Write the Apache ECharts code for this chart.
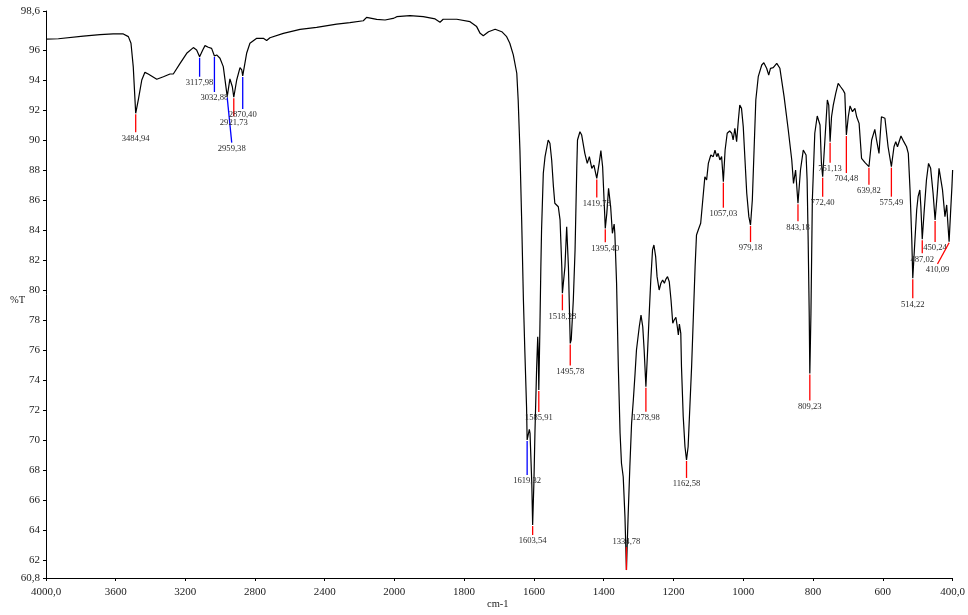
<!DOCTYPE html>
<html>
<head>
<meta charset="utf-8">
<script src="https://cdn.jsdelivr.net/npm/echarts@6/dist/echarts.min.js"></script>
<style>
  html, body { margin: 0; padding: 0; background: #ffffff; }
  #chart { width: 968px; height: 615px; }
</style>
</head>
<body>
<div id="chart"></div>
<script>
// IR spectrum: wavenumber (cm-1) and transmittance (%T), 4000 -> 400 cm-1
const wavenumbers = [
  4000, 3929, 3786, 3690, 3614, 3556, 3527, 3512, 3499, 3484.94,
  3470, 3450, 3432, 3413, 3364, 3326, 3288, 3269, 3230, 3192,
  3154, 3135, 3117.98, 3100, 3087, 3068, 3049, 3032.88, 3020, 3001,
  2982, 2959.38, 2944, 2930, 2921.73, 2905, 2886, 2876, 2870.40, 2848,
  2829, 2790, 2752, 2733, 2714, 2637, 2541, 2446, 2331, 2255,
  2178, 2159, 2149, 2101, 2053, 2000,
  1993, 1955, 1917, 1883, 1869, 1860, 1821, 1783, 1764, 1754,
  1745, 1730, 1711, 1692, 1678, 1669, 1659, 1649, 1645, 1640,
  1635, 1630, 1626, 1621, 1619.32, 1613, 1611, 1606, 1603.54, 1600,
  1597, 1592, 1589, 1587.5, 1585.91, 1583, 1580, 1578, 1573, 1568,
  1559, 1554, 1549, 1544, 1540, 1530, 1525, 1520, 1518.28, 1511,
  1506, 1501, 1495.78, 1493, 1487, 1482, 1477, 1475, 1468, 1463,
  1454, 1447, 1441, 1434, 1428, 1419.78, 1413, 1408, 1403, 1398,
  1395.40, 1391, 1386, 1380, 1375, 1370, 1368, 1363, 1358, 1353,
  1349, 1344, 1339, 1334.78, 1330, 1325, 1320, 1315, 1310, 1306,
  1298, 1293, 1288, 1284, 1278.98, 1274, 1269, 1265, 1260, 1256,
  1251, 1247, 1241, 1236, 1231, 1226, 1222, 1217, 1212, 1207,
  1202, 1198, 1193, 1189, 1186, 1183, 1179, 1177, 1172, 1167,
  1162.58, 1158, 1153, 1148, 1143, 1138, 1134, 1129, 1126, 1122,
  1116, 1110, 1105, 1100, 1093, 1086, 1081, 1076, 1072, 1067,
  1062, 1057.03, 1052, 1046, 1039, 1033, 1029, 1024, 1019, 1014,
  1010, 1005, 1000, 995, 990, 984, 979.18, 974, 969, 964,
  957, 947, 941, 933, 927, 922, 914, 904, 895, 883,
  871, 861, 856, 850, 843.18, 836, 828, 820, 817, 814,
  811, 809.23, 806, 802, 795, 788, 780, 776, 772.40, 766,
  759, 755, 751.13, 747, 742, 735, 728, 721, 714, 709,
  704.48, 699, 694, 687, 680, 675, 668, 661, 651, 639.82,
  632, 623, 618, 611, 604, 599, 594, 585, 575.49, 568,
  563, 558, 548, 540, 532, 527, 522, 517, 514.22, 508,
  503, 499, 494, 491, 487.02, 482, 475, 469, 463, 456,
  450.24, 444, 439, 435, 429, 422, 417, 413, 410.09, 406,
  402, 400
];

const transmittance = [
  96.73, 96.75, 96.93, 97.02, 97.07, 97.07, 96.89, 96.45, 94.89, 91.78,
  92.67, 94.00, 94.51, 94.40, 94.05, 94.22, 94.40, 94.40, 95.11, 95.78,
  96.16, 96.00, 95.55, 96.00, 96.29, 96.18, 96.11, 95.60, 95.67, 95.45,
  94.89, 92.89, 94.07, 93.55, 92.85, 94.00, 94.82, 94.67, 94.27, 95.78,
  96.45, 96.78, 96.78, 96.63, 96.82, 97.11, 97.38, 97.51, 97.73, 97.82,
  97.95, 98.18, 98.05, 98.04, 98.00, 98.13,
  98.22, 98.29, 98.22, 98.07, 97.85, 98.05, 98.05, 97.89, 97.56, 97.11,
  96.95, 97.22, 97.38, 97.22, 96.89, 96.45, 95.67, 94.45, 92.67, 89.33,
  84.67, 79.33, 76.00, 72.22, 70.00, 70.71, 70.45, 67.11, 64.33, 67.11,
  70.45, 74.89, 76.89, 76.00, 73.33, 77.11, 81.55, 84.00, 87.78, 88.89,
  90.00, 89.78, 88.67, 86.89, 85.78, 85.55, 84.67, 81.55, 79.78, 81.55,
  84.22, 81.55, 76.44, 76.67, 79.33, 82.67, 88.22, 90.00, 90.55, 90.33,
  89.11, 88.44, 88.89, 88.11, 88.33, 87.44, 88.44, 89.29, 88.22, 85.55,
  84.11, 85.11, 86.78, 85.55, 83.78, 84.40, 83.78, 80.45, 74.89, 70.45,
  68.45, 67.55, 64.89, 61.33, 64.89, 68.22, 71.11, 72.67, 74.45, 76.00,
  77.55, 78.33, 77.55, 76.00, 73.55, 76.00, 78.67, 80.67, 82.67, 83.00,
  82.22, 80.89, 80.00, 80.45, 80.67, 80.45, 80.71, 80.89, 80.55, 79.33,
  77.78, 78.00, 78.18, 77.55, 77.00, 77.73, 77.11, 74.89, 71.55, 69.55,
  68.67, 69.55, 72.22, 74.89, 78.22, 81.55, 83.67, 84.00, 83.89, 84.45,
  86.00, 87.55, 87.33, 88.44, 89.00, 88.89, 89.33, 88.89, 89.11, 88.67,
  88.89, 87.22, 89.33, 90.45, 90.60, 90.45, 90.00, 90.78, 89.89, 91.33,
  92.33, 92.11, 90.89, 88.67, 86.45, 84.89, 84.33, 86.00, 89.33, 92.67,
  94.22, 95.00, 95.15, 94.78, 94.33, 94.78, 94.82, 95.11, 94.78, 92.89,
  90.67, 88.67, 87.11, 88.00, 85.78, 88.00, 89.33, 89.00, 87.33, 83.33,
  78.45, 74.44, 78.45, 86.00, 90.45, 91.60, 91.00, 88.45, 87.55, 90.00,
  92.67, 92.33, 89.89, 91.55, 92.33, 93.11, 93.78, 93.55, 93.33, 93.11,
  90.33, 91.55, 92.27, 91.89, 92.11, 91.55, 91.11, 88.78, 88.49, 88.22,
  90.00, 90.71, 90.00, 89.11, 91.55, 91.67, 91.45, 89.55, 88.22, 89.55,
  89.89, 89.55, 90.27, 89.89, 89.55, 89.11, 86.67, 83.33, 80.78, 83.33,
  85.33, 86.22, 86.67, 85.55, 83.38, 85.11, 87.33, 88.44, 88.11, 86.45,
  84.67, 86.45, 88.11, 88.00, 86.67, 84.89, 85.67, 84.22, 83.22, 85.11,
  86.89, 88.00
];

// Picked peaks (cm-1) and their transmittance
const peakWavenumbers = [
  3484.94, 3117.98, 3032.88, 2959.38, 2921.73, 2870.40,
  1619.32, 1603.54, 1585.91, 1518.28, 1495.78, 1419.78, 1395.40, 1334.78,
  1278.98, 1162.58, 1057.03, 979.18, 843.18, 809.23, 772.40, 751.13,
  704.48, 639.82, 575.49, 514.22, 487.02, 450.24, 410.09
];
const peakTransmittance = [
  91.78, 95.55, 95.60, 92.89, 92.85, 94.27,
  70.00, 64.33, 73.33, 79.78, 76.44, 87.44, 84.11, 61.33,
  73.55, 68.67, 87.22, 84.33, 85.78, 74.44, 87.55, 89.89,
  90.33, 88.22, 88.22, 80.78, 83.38, 84.67, 83.22
];

// Axis ticks
const yTickValues = [60.8, 62, 64, 66, 68, 70, 72, 74, 76, 78, 80, 82, 84, 86, 88, 90, 92, 94, 96, 98.6];

// Marker drawing: pixel offset of each leader line end [dx, dy] and its colour
const peakLeader = [
  [0, 19, 'red'], [0, 20, 'blue'], [0, 36, 'blue'], [4.5, 46, 'blue'], [0, 19, 'red'], [0, 33, 'blue'],
  [0, 35, 'blue'], [0, 10, 'red'], [0, 22, 'red'], [0, 17, 'red'], [0, 22, 'red'], [0, 19, 'red'], [0, 14, 'red'], [0, -23, 'red'],
  [0, 25, 'red'], [0, 18, 'red'], [0, 26, 'red'], [0, 17, 'red'], [0, 18, 'red'], [0, 27, 'red'], [0, 20, 'red'], [0, 21, 'red'],
  [0, 38, 'red'], [0, 18, 'red'], [0, 30, 'red'], [0, 20, 'red'], [0, 14, 'red'], [0, 22, 'red'], [-11.6, 22.3, 'red']
];

const SERIF = 'Liberation Serif, Times New Roman, serif';
const BREAK = 2000;

const fmtComma = (v, digits) => v.toFixed(digits).replace('.', ',');

const curveHigh = [];
const curveLow = [];
wavenumbers.forEach((w, i) => {
  if (w >= BREAK) curveHigh.push([w, transmittance[i]]);
  if (w <= BREAK) curveLow.push([w, transmittance[i]]);
});
const peaksHigh = [];
const peaksLow = [];
peakWavenumbers.forEach((w, i) => {
  (w >= BREAK ? peaksHigh : peaksLow).push([w, peakTransmittance[i], i]);
});

function renderPeak(params, api) {
  const idx = api.value(2);
  const p = api.coord([api.value(0), api.value(1)]);
  const [dx, dy, color] = peakLeader[idx];
  const ex = p[0] + dx;
  const ey = p[1] + dy;
  const up = dy < 0;
  return {
    type: 'group',
    children: [
      {
        type: 'line',
        shape: { x1: p[0], y1: p[1] + (up ? 0 : 1), x2: ex, y2: ey },
        style: { stroke: color, lineWidth: 1.3 }
      },
      {
        type: 'text',
        x: ex,
        y: up ? ey - 1 : ey + 1.5,
        style: {
          text: fmtComma(peakWavenumbers[idx], 2),
          fill: '#2a2a2a',
          fontSize: 8.6,
          fontFamily: SERIF,
          align: 'center',
          verticalAlign: up ? 'bottom' : 'top'
        }
      }
    ]
  };
}

const axisLineStyle = { lineStyle: { color: '#000', width: 1 } };
const axisTickStyle = { show: true, inside: false, length: 3, lineStyle: { color: '#000', width: 1 } };
const axisLabelBase = { color: '#222', fontFamily: SERIF, fontSize: 11, margin: 6 };

const chart = echarts.init(document.getElementById('chart'), null, { renderer: 'canvas' });

chart.setOption({
  animation: false,
  backgroundColor: '#ffffff',
  grid: [
    { left: 46, top: 11, width: 348.3, height: 567 },
    { left: 394.3, top: 11, width: 558.4, height: 567 }
  ],
  xAxis: [
    {
      type: 'value', gridIndex: 0, min: 2000, max: 4000, interval: 400, inverse: true,
      axisLine: axisLineStyle, axisTick: axisTickStyle, splitLine: { show: false },
      axisLabel: Object.assign({}, axisLabelBase, {
        margin: 9,
        formatter: v => (v === 4000 ? '4000,0' : String(v))
      })
    },
    {
      type: 'value', gridIndex: 1, min: 400, max: 2000, interval: 200, inverse: true,
      axisLine: axisLineStyle, axisTick: axisTickStyle, splitLine: { show: false },
      axisLabel: Object.assign({}, axisLabelBase, {
        margin: 9,
        formatter: v => (v === 2000 ? '' : v === 400 ? '400,0' : String(v))
      })
    }
  ],
  yAxis: [
    {
      type: 'value', gridIndex: 0, min: 60.8, max: 98.6,
      axisLine: { show: true, lineStyle: { color: '#000', width: 1 } },
      axisTick: Object.assign({}, axisTickStyle, { customValues: yTickValues }),
      splitLine: { show: false },
      axisLabel: Object.assign({}, axisLabelBase, {
        customValues: yTickValues,
        formatter: v => (Number.isInteger(v) ? String(v) : fmtComma(v, 1))
      })
    },
    {
      type: 'value', gridIndex: 1, min: 60.8, max: 98.6, show: false,
      splitLine: { show: false }
    }
  ],
  graphic: [
    {
      type: 'text', left: 10, top: 295,
      style: { text: '%T', fill: '#222', fontSize: 10.5, fontFamily: SERIF }
    },
    {
      type: 'text', left: 487, top: 599,
      style: { text: 'cm-1', fill: '#222', fontSize: 10.5, fontFamily: SERIF }
    }
  ],
  series: [
    {
      type: 'line', xAxisIndex: 0, yAxisIndex: 0, data: curveHigh,
      showSymbol: false, silent: true, clip: false,
      lineStyle: { color: '#000', width: 1.2 }
    },
    {
      type: 'line', xAxisIndex: 1, yAxisIndex: 1, data: curveLow,
      showSymbol: false, silent: true, clip: false,
      lineStyle: { color: '#000', width: 1.2 }
    },
    {
      type: 'custom', xAxisIndex: 0, yAxisIndex: 0, data: peaksHigh,
      renderItem: renderPeak, silent: true, z: 5
    },
    {
      type: 'custom', xAxisIndex: 1, yAxisIndex: 1, data: peaksLow,
      renderItem: renderPeak, silent: true, z: 5
    }
  ]
});
</script>
</body>
</html>
